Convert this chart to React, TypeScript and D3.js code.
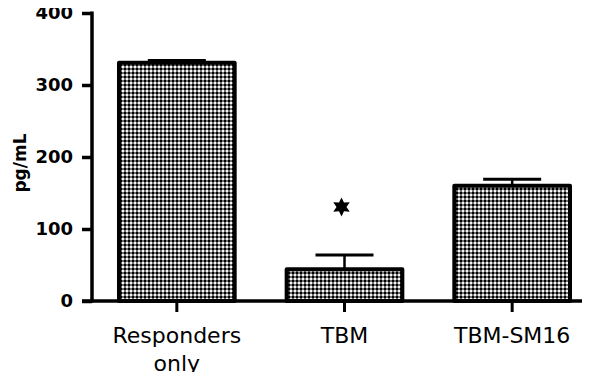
import React, { useEffect, useRef } from 'react';
import * as d3 from 'd3';

const categories = ['Responders only', 'TBM', 'TBM-SM16'];
const means = [331, 44, 160];
const errors = [3, 20, 9];
const yTicks = [0, 100, 200, 300, 400];
const starred = ['TBM'];

const W = 598;
const H = 380;

export default function App() {
  const ref = useRef<SVGSVGElement>(null);

  useEffect(() => {
    const svg = d3.select(ref.current);
    svg.selectAll('*').remove();

    const y = d3.scaleLinear().domain([0, 400]).range([301, 13]);
    const x = d3
      .scaleBand()
      .domain(categories)
      .range([93, 596])
      .paddingInner(0.31)
      .paddingOuter(0.155);

    const defs = svg.append('defs');
    const pat = defs
      .append('pattern')
      .attr('id', 'dots')
      .attr('patternUnits', 'userSpaceOnUse')
      .attr('width', 4)
      .attr('height', 4);
    pat.append('rect').attr('width', 4).attr('height', 4).attr('fill', '#707070');
    pat.append('rect').attr('width', 2).attr('height', 2).attr('fill', '#000');
    pat.append('rect').attr('x', 2).attr('y', 2).attr('width', 2).attr('height', 2).attr('fill', '#f4f4f4');

    const font = '"DejaVu Sans", sans-serif';

    // bars
    const g = svg.append('g');
    g.selectAll('rect.bar')
      .data(categories)
      .enter()
      .append('rect')
      .attr('class', 'bar')
      .attr('x', (d) => x(d)!)
      .attr('y', (d, i) => y(means[i]))
      .attr('width', x.bandwidth())
      .attr('height', (d, i) => y(0) - y(means[i]))
      .attr('fill', 'url(#dots)')
      .attr('stroke', '#000')
      .attr('stroke-width', 4)
      .attr('stroke-linejoin', 'round');

    // error bars
    const capHalf = 29;
    categories.forEach((c, i) => {
      const cx = x(c)! + x.bandwidth() / 2;
      g.append('line')
        .attr('x1', cx).attr('x2', cx)
        .attr('y1', y(means[i])).attr('y2', y(means[i] + errors[i]))
        .attr('stroke', '#000').attr('stroke-width', 2.5);
      g.append('line')
        .attr('x1', cx - capHalf).attr('x2', cx + capHalf)
        .attr('y1', y(means[i] + errors[i])).attr('y2', y(means[i] + errors[i]))
        .attr('stroke', '#000').attr('stroke-width', 3);
    });

    // six-pointed star
    const starPts: [number, number][] = d3.range(12).map((k) => [
      (k * Math.PI) / 6,
      k % 2 === 0 ? 9.5 : 5,
    ]);
    const star = d3.lineRadial().curve(d3.curveLinearClosed)(starPts);
    starred.forEach((c) => {
      const i = categories.indexOf(c);
      const cx = x(c)! + x.bandwidth() / 2 - 3;
      g.append('path')
        .attr('d', star)
        .attr('transform', `translate(${cx},${y(means[i] + errors[i]) - 48})`)
        .attr('fill', '#000');
    });

    // y axis
    const ya = svg.append('g').attr('transform', 'translate(92,0)');
    ya.call(
      d3.axisLeft(y).tickValues(yTicks).tickSize(10).tickPadding(9) as any
    );
    ya.select('.domain').remove();
    ya.append('line')
      .attr('x1', 0).attr('x2', 0).attr('y1', y(400) - 1.5).attr('y2', y(0) + 1.5)
      .attr('stroke', '#000').attr('stroke-width', 3.5);
    ya.selectAll('.tick line').attr('stroke', '#000').attr('stroke-width', 3.5);
    ya.selectAll('.tick text')
      .attr('font-family', font)
      .attr('font-weight', 'bold')
      .attr('font-size', 18)
      .attr('fill', '#000');

    // x axis
    const xa = svg.append('g').attr('transform', `translate(0,${y(0)})`);
    xa.append('line')
      .attr('x1', 82).attr('x2', 582).attr('y1', 0).attr('y2', 0)
      .attr('stroke', '#000').attr('stroke-width', 3.5);
    categories.forEach((c) => {
      const cx = x(c)! + x.bandwidth() / 2;
      xa.append('line')
        .attr('x1', cx).attr('x2', cx).attr('y1', 0).attr('y2', 11)
        .attr('stroke', '#000').attr('stroke-width', 3);
      const words = c === 'Responders only' ? ['Responders', 'only'] : [c];
      const t = xa.append('text')
        .attr('text-anchor', 'middle')
        .attr('font-family', font)
        .attr('font-size', 22)
        .attr('fill', '#000');
      words.forEach((w, k) => {
        t.append('tspan').attr('x', cx).attr('y', 42 + k * 28).text(w);
      });
    });

    // y label
    svg.append('text')
      .attr('transform', `translate(26,${(y(0) + y(400)) / 2 + 6}) rotate(-90)`)
      .attr('text-anchor', 'middle')
      .attr('font-family', font)
      .attr('font-weight', 'bold')
      .attr('font-size', 17)
      .attr('fill', '#000')
      .text('pg/mL');
  }, []);

  return <svg ref={ref} width={W} height={H} style={{ display: 'block', margin: -8 }} />;
}
